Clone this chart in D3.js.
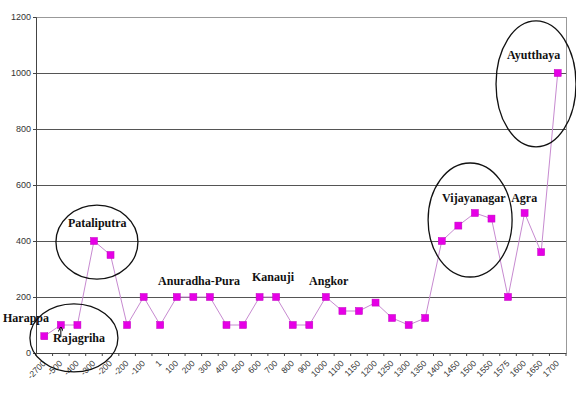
<!DOCTYPE html>
<html><head><meta charset="utf-8">
<script src="https://cdn.jsdelivr.net/npm/d3@7"></script>
<style>body{margin:0;background:#fff}svg{display:block}</style>
</head><body><svg id="c" width="576" height="394"></svg>
<script>
const categories = ["-2700","-500","-400","-300","-200","-200","-100","1","100","200","300","400","500","600","700","800","900","1000","1100","1150","1200","1250","1300","1350","1400","1450","1500","1550","1575","1600","1650","1700"];
const values = [60,100,100,400,350,100,200,100,200,200,200,100,100,200,200,100,100,200,150,150,180,125,100,125,400,455,500,480,200,500,360,1000];
const yTicks = [0,200,400,600,800,1000,1200];
// annotations in data coordinates (category index, value)
const labelNames = ["Harappa","Rajagriha","Pataliputra","Anuradha-Pura","Kanauji","Angkor","Vijayanagar","Agra","Ayutthaya"];
const labelIdx = [-2.49,0.53,1.43,6.87,12.54,15.99,24.02,28.19,27.94];
const labelVal = [111,38,450,243,257,243,539,539,1050];
const ellipseIdx = [1.79,3.18,25.71,29.69];
const ellipseVal = [54,396,475,961];
const ellipseRx = [44,41,42,40];
const ellipseRy = [34,37,57,63];

const svg = d3.select("#c");
const L=36, R=566, T=17, B=353;
const band = d3.scaleBand().domain(d3.range(categories.length)).range([L,R]).padding(0);
const xi = d3.scaleLinear().domain([0,categories.length-1]).range([band(0)+band.bandwidth()/2, band(categories.length-1)+band.bandwidth()/2]);
const y = d3.scaleLinear().domain([0,1200]).range([B,T]);

// gridlines
svg.append("g").selectAll("line").data(yTicks.slice(1)).join("line")
  .attr("x1",L).attr("x2",R).attr("y1",d=>y(d)).attr("y2",d=>y(d))
  .attr("stroke",d=>d===1200?"#999":"#555").attr("stroke-width",1).attr("shape-rendering","crispEdges");
// right border
svg.append("line").attr("x1",R).attr("x2",R).attr("y1",T).attr("y2",B)
  .attr("stroke","#999").attr("shape-rendering","crispEdges");

// y axis
const ya = svg.append("g").attr("transform",`translate(${L},0)`)
  .call(d3.axisLeft(y).tickValues(yTicks).tickFormat(d3.format("d")).tickSize(3).tickPadding(2));
ya.select(".domain").attr("stroke","#444");
ya.selectAll(".tick line").attr("stroke","#444");
ya.selectAll("text").attr("font-family","Liberation Sans, Arial, sans-serif").attr("font-size","9px").attr("fill","#333");

// x axis
const xa = svg.append("g").attr("transform",`translate(0,${B})`)
  .call(d3.axisBottom(band).tickFormat(i=>categories[i]).tickSize(0));
xa.select(".domain").attr("stroke","#444");
xa.selectAll(".tick text").attr("font-family","Liberation Sans, Arial, sans-serif").attr("font-size","8.5px").attr("fill","#333")
  .attr("text-anchor","end").attr("dy",0).attr("y",0)
  .attr("transform","translate(2,11) rotate(-45)");
// boundary ticks between categories
svg.append("g").selectAll("line").data(d3.range(categories.length+1)).join("line")
  .attr("x1",i=>L+i*band.step()).attr("x2",i=>L+i*band.step())
  .attr("y1",B).attr("y2",B+3).attr("stroke","#444");

// line
svg.append("path").datum(values)
  .attr("d",d3.line().x((d,i)=>xi(i)).y(d=>y(d)))
  .attr("fill","none").attr("stroke","#c78ad0").attr("stroke-width",1);
// markers
svg.append("g").selectAll("rect").data(values).join("rect")
  .attr("x",(d,i)=>xi(i)-3.5).attr("y",d=>y(d)-3.5).attr("width",7).attr("height",7)
  .attr("fill","#e600e6").attr("stroke","#c000c0").attr("stroke-width",0.5);

// ellipses
svg.append("g").selectAll("ellipse").data(ellipseIdx).join("ellipse")
  .attr("cx",d=>xi(d)).attr("cy",(d,i)=>y(ellipseVal[i]))
  .attr("rx",(d,i)=>ellipseRx[i]).attr("ry",(d,i)=>ellipseRy[i])
  .attr("fill","none").attr("stroke","#111").attr("stroke-width",1.3);

// labels
svg.append("g").selectAll("text").data(labelNames).join("text")
  .attr("x",(d,i)=>xi(labelIdx[i])).attr("y",(d,i)=>y(labelVal[i]))
  .attr("font-family","Liberation Serif, Times New Roman, serif").attr("font-weight","bold")
  .attr("font-size","12px").attr("fill","#111").text(d=>d);

// arrow for Rajagriha
svg.append("defs").append("marker").attr("id","ah").attr("viewBox","0 0 6 6")
  .attr("refX",3).attr("refY",3).attr("markerWidth",5).attr("markerHeight",5).attr("orient","auto")
  .append("path").attr("d","M0,0 L6,3 L0,6").attr("fill","none").attr("stroke","#000").attr("stroke-width",1.2);
svg.append("line").attr("x1",xi(1)).attr("x2",xi(1)).attr("y1",y(values[1])+12).attr("y2",y(values[1])+4)
  .attr("stroke","#000").attr("stroke-width",1).attr("marker-end","url(#ah)");
</script></body></html>
